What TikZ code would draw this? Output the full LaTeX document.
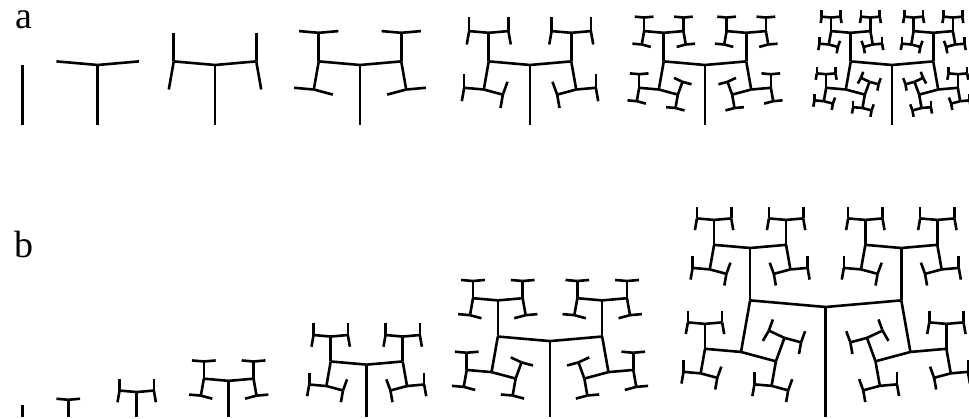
\documentclass[tikz,border=0pt]{standalone}
\usepackage{fontspec}
\setmainfont{Liberation Serif}

\newcommand{\treeratio}{0.69}
\newcommand{\treeturn}{85}
% #1,#2 start, #3 heading, #4 length, #5 depth
\newcommand{\hbranch}[5]{%
  \pgfmathsetmacro{\bx}{#1+#4*cos(#3)}%
  \pgfmathsetmacro{\by}{#2+#4*sin(#3)}%
  \draw[twig] (#1,#2) -- (\bx,\by);%
  \ifnum#5>0
    \pgfmathsetmacro{\bl}{#4*\treeratio}%
    \pgfmathsetmacro{\ba}{#3+\treeturn}%
    \pgfmathsetmacro{\bb}{#3-\treeturn}%
    \pgfmathtruncatemacro{\bd}{#5-1}%
    \edef\nexttwig{\noexpand\hbranch{\bx}{\by}{\ba}{\bl}{\bd}\noexpand\hbranch{\bx}{\by}{\bb}{\bl}{\bd}}%
    \nexttwig
  \fi
}

\begin{document}
\begin{tikzpicture}[x=1pt,y=1pt,
    twig/.style={line width=2.6pt,black},
    panel/.style={font=\fontsize{38}{38}\selectfont,anchor=base,inner sep=0pt}]
      \useasboundingbox (0,0) rectangle (969,419);
      \node[panel] (labela) at (24,390) {a};
      \node[panel] (labelb) at (24,161) {b};
      % row a: same trunk, growing depth
      \foreach \d/\x in {0/22.7,1/97.7,2/215,3/360,4/530,5/705,6/892}{
        \hbranch{\x}{294}{90}{60}{\d}
      }
      % row b: trunk grows with depth
      \foreach \d/\x in {0/22.7,1/68.3,2/136.7,3/228.7,4/366.7,5/550,6/825.7}{
        \pgfmathsetmacro{\trunk}{110*\treeratio^(6-\d)}
        \hbranch{\x}{2}{90}{\trunk}{\d}
      }
    \end{tikzpicture}
\end{document}
